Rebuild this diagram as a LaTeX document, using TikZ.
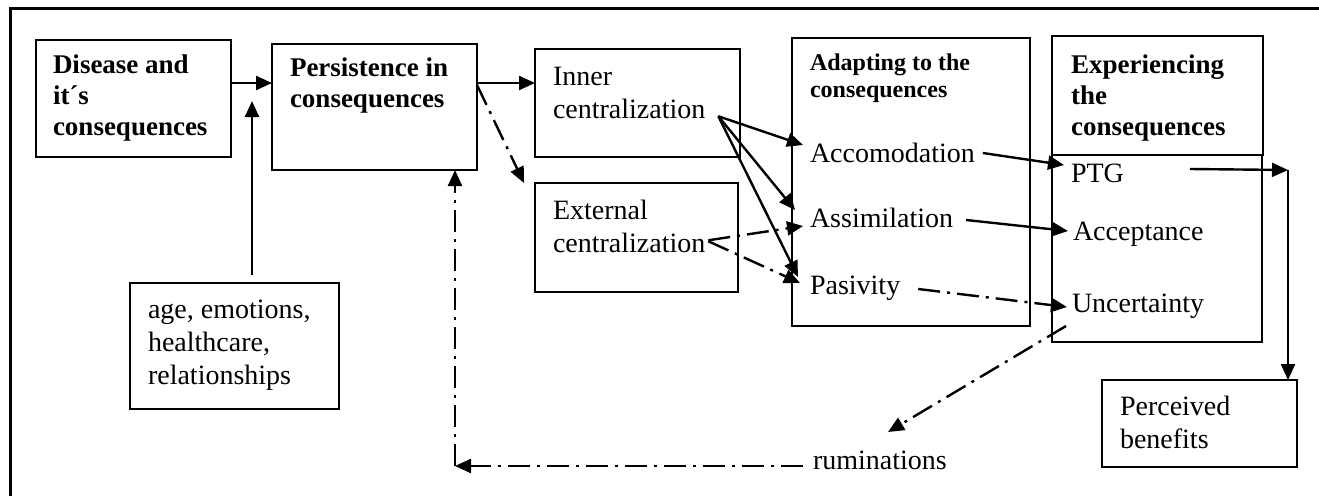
\documentclass[tikz,border=0pt]{standalone}
\usepackage{fontspec}
\setmainfont{Liberation Serif}
\usetikzlibrary{arrows.meta}
\begin{document}
\begin{tikzpicture}[x=1pt,y=-1pt,
  box/.style={draw, line width=1.8pt, anchor=north west, inner sep=0pt, outer sep=0pt},
  txt/.style={anchor=base west, inner sep=0pt, outer sep=0pt, align=left},
  bigb/.style={txt, font=\fontsize{27}{31}\selectfont\bfseries},
  midb/.style={txt, font=\fontsize{24}{27}\selectfont\bfseries},
  reg/.style={txt, font=\fontsize{28}{33}\selectfont},
  conn/.style={line width=2.4pt, -{Triangle[length=16pt,width=14pt]}},
  dd/.style={conn, dash pattern=on 22pt off 7pt on 3pt off 7pt}]
\useasboundingbox (0,0) rectangle (1319,496);
% outer frame (top and left)
\draw[line width=3pt] (10,496) -- (10,8) -- (1319,8);
% boxes
\node[box, minimum width=195pt, minimum height=117pt] (disbox) at (36,40) {};
\node[box, minimum width=205pt, minimum height=126pt] (perbox) at (272,44) {};
\node[box, minimum width=205pt, minimum height=108pt] (innbox) at (535,49) {};
\node[box, minimum width=203pt, minimum height=109pt] (extbox) at (535,183) {};
\node[box, minimum width=238pt, minimum height=288pt] (adabox) at (792,38) {};
\node[box, minimum width=211pt, minimum height=119pt] (expbox) at (1052,36) {};
\node[box, minimum width=210pt, minimum height=187pt] (expbox2) at (1052,155) {};
\node[box, minimum width=209pt, minimum height=126pt] (agebox) at (130,283) {};
\node[box, minimum width=195pt, minimum height=87pt] (benbox) at (1102,380) {};
% texts (multi-line nodes: base = baseline of last line)
\node[bigb] (dis) at (53,135) {Disease and\\it´s\\consequences};
\node[bigb] (per) at (290,107) {Persistence in\\consequences};
\node[reg] (inn) at (553,118) {Inner\\centralization};
\node[reg] (ext) at (553,252) {External\\centralization};
\node[midb] (ada) at (810,97) {Adapting to the\\consequences};
\node[reg] (acc) at (810,162) {Accomodation};
\node[reg] (ass) at (810,227) {Assimilation};
\node[reg] (pas) at (810,294) {Pasivity};
\node[bigb] (exp) at (1071,135) {Experiencing\\the\\consequences};
\node[reg] (ptg) at (1071,182) {PTG};
\node[reg] (acp) at (1073,240) {Acceptance};
\node[reg] (unc) at (1072,312) {Uncertainty};
\node[reg] (ben) at (1120,448) {Perceived\\benefits};
\node[reg] (age) at (148,384) {age, emotions,\\healthcare,\\relationships};
\node[reg] (rum) at (813,469) {ruminations};
% free ends
\coordinate (agetip) at (252,101);
\coordinate (ptgcorner) at (1288,170);
\coordinate (rumcorner) at (455,466);
% connectors
\draw[conn] ([shift={(0,-15.5)}]disbox.east) -- ([shift={(0,-15.5)}]disbox.east -| perbox.west);
\draw[conn] ([shift={(17.5,-8)}]agebox.north) -- (agetip);
\draw[conn] ([shift={(0,-24)}]perbox.east) -- ([shift={(0,-24)}]perbox.east -| innbox.west);
\draw[dd] ([shift={(0,-22)}]perbox.east) -- ([shift={(-11,0)}]extbox.north west);
\draw[conn] ([shift={(13,-2)}]inn.south east) -- ([shift={(-7,-17)}]acc.base west);
\draw[conn] ([shift={(13,-2)}]inn.south east) -- ([shift={(-15,-17)}]ass.base west);
\draw[conn] ([shift={(13,-2)}]inn.south east) -- ([shift={(-12,-17)}]pas.base west);
\draw[dd] ([shift={(3,-12)}]ext.south east) -- ([shift={(-7,-1)}]ass.base west);
\draw[dd] ([shift={(3,-11)}]ext.south east) -- ([shift={(-10,-11)}]pas.base west);
\draw[conn] ([shift={(8,-9)}]acc.base east) -- ([shift={(-7,-17)}]ptg.base west);
\draw[conn] ([shift={(13,-7)}]ass.base east) -- ([shift={(-5,-9)}]acp.base west);
\draw[conn] ([shift={(66,-13)}]ptg.base east) -- (ptgcorner);
\draw[conn] (ptgcorner) -- (ptgcorner |- benbox.north);
\draw[dd] ([shift={(18,-5)}]pas.base east) -- ([shift={(-5,-5)}]unc.base west);
\draw[dd] ([shift={(-6,14)}]unc.base west) -- ([shift={(75,-37)}]rum.base west);
\draw[dd] ([shift={(-10,-3)}]rum.base west) -- (rumcorner);
\draw[dd] (rumcorner) -- (rumcorner |- perbox.south);
\end{tikzpicture}
\end{document}
